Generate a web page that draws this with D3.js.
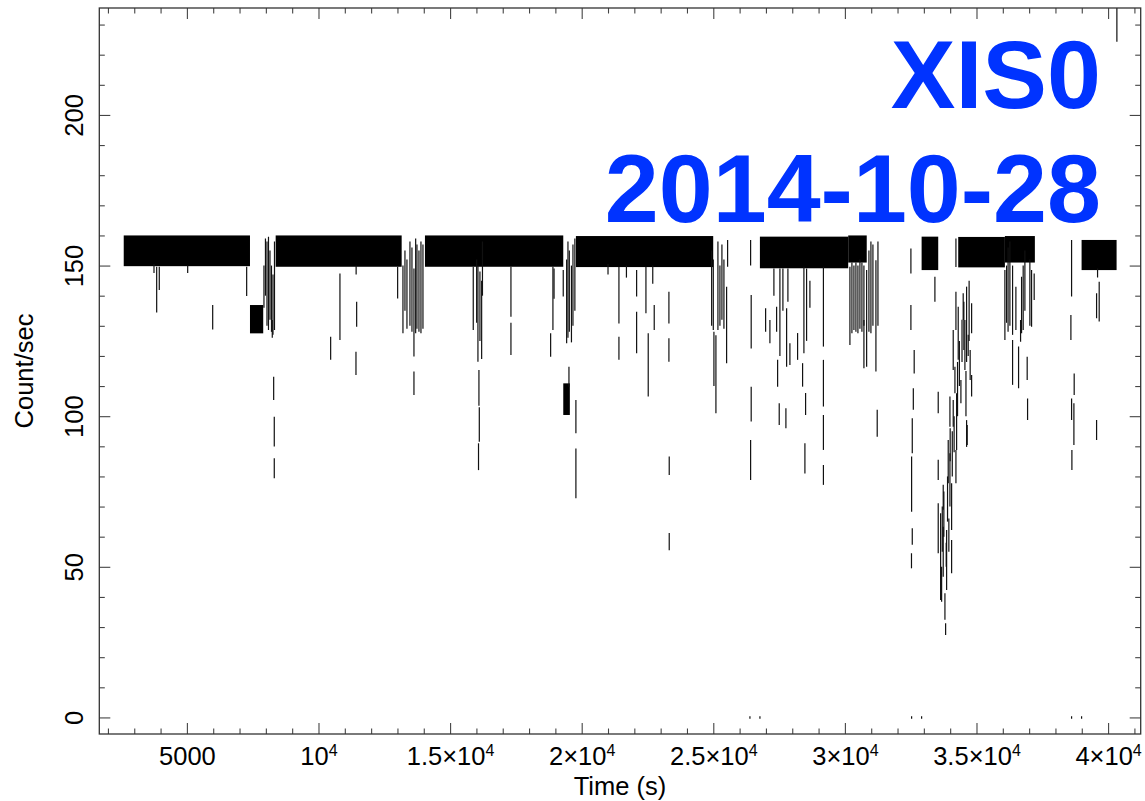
<!DOCTYPE html>
<html>
<head>
<meta charset="utf-8">
<script src="https://cdn.jsdelivr.net/npm/d3@7"></script>
<style>
  body { margin: 0; background: #fff; }
  svg { display: block; font-family: "Liberation Sans", Arial, Helvetica, sans-serif; }
</style>
</head>
<body>
<svg id="chart"></svg>
<script>
const width = 1145;
const height = 801;
const margin = { top: 8, right: 4.3, bottom: 67, left: 99.3 };

// Axis ticks and labels
const xMajor = [5000, 10000, 15000, 20000, 25000, 30000, 35000, 40000];
const xLabels = ["5000", "10^4", "1.5×10^4", "2×10^4", "2.5×10^4", "3×10^4", "3.5×10^4", "4×10^4"];
const yMajor = [0, 50, 100, 150, 200];
const yLabels = ["0", "50", "100", "150", "200"];
const titleLines = ["XIS0", "2014-10-28"];

// Dense stretches of the light curve: [start (s), end (s), low, high]
const bands = [
  [2600, 7397, 149.8, 160],
  [7397, 7900, 127.5, 136.9],
  [8373, 13160, 149.6, 160],
  [14045, 19300, 149.6, 160],
  [19300, 19550, 100.4, 110.9],
  [19780, 24997, 149.5, 159.8],
  [26771, 30126, 149.1, 159.6],
  [30126, 30830, 151, 160],
  [32915, 33546, 148.5, 159.6],
  [34306, 36079, 149.4, 159.5],
  [36079, 37218, 151, 159.8],
  [38993, 40323, 148.5, 158.5]
];

// Single bins with their error bars: [time (s), low, high]
const bars = [
  [3750, 147.5, 150.5], [3852, 134.4, 149.6], [3951, 141.9, 149.6], [5030, 147.5, 150],
  [5980, 128.8, 136.9], [7271, 139.9, 149.6],
  [7928, 136, 150], [7985, 140, 159], [8043, 130, 158], [8100, 128.6, 159.6],
  [8157, 132, 155], [8214, 128, 150], [8244, 126, 131.9], [8271, 127, 147],
  [8297, 105.4, 113.1], [8320, 89.9, 99.8], [8320, 79.4, 86.0], [8328, 128.6, 158],
  [10462, 118.7, 126.4], [10815, 125.3, 147.4], [11450, 129.7, 138], [11424, 113.7, 121.4],
  [11430, 147, 150], [13007, 139.1, 149.6],
  [13209, 127.5, 150], [13285, 135, 155], [13361, 129, 152], [13475, 130, 158],
  [13551, 128, 156], [13627, 119.8, 149], [13627, 107, 114.8], [13692, 127.5, 159],
  [13741, 129, 157], [13817, 128, 155], [13893, 127.5, 158], [13969, 129, 157],
  [15880, 128.6, 149.6], [16009, 131, 152], [16058, 118.1, 150], [16096, 103.5, 115.3],
  [16110, 91.5, 103], [16080, 82.1, 91], [16134, 125, 148], [16199, 119, 145], [16230, 140, 158],
  [17312, 133, 149.6], [17312, 120.3, 131], [18820, 119.7, 127.5], [18907, 128.6, 149.6],
  [18950, 139, 149], [19299, 139.7, 148.5],
  [19428, 124.2, 152], [19478, 126, 158], [19516, 109.8, 116.4], [19530, 128, 155],
  [19611, 124.5, 150], [19668, 130, 157], [19741, 135, 159], [19780, 94.3, 105.4], [19780, 72.8, 89.3],
  [21000, 147, 150.5], [21415, 130.8, 149.6], [21415, 118.7, 126.4], [21700, 146, 150],
  [22087, 139.7, 148.5], [22087, 120.9, 134.7], [22441, 134.2, 149.6], [22528, 106.5, 127.5],
  [22700, 144, 150], [22756, 128.6, 136.9], [23314, 130.8, 141.3], [23314, 118.1, 125.9],
  [23326, 80.5, 86.6], [23326, 55.5, 61.2],
  [24937, 130, 155], [25000, 128.6, 152], [25024, 110, 128], [25100, 101, 126.9],
  [25176, 128.6, 158], [25252, 130, 150], [25328, 132, 157], [25404, 129, 152],
  [25506, 117.6, 143], [25544, 149.6, 158.5],
  [26418, 150, 158.5], [26440, 122.5, 140.2], [26440, 98.2, 109.8], [26418, 78.8, 92.1],
  [26392, -0.4, 0.4], [26772, -0.4, 0.4],
  [26988, 128, 135.8], [27151, 124.2, 131.9], [27303, 140, 149], [27406, 128, 136.3],
  [27444, 109.8, 118.7], [27531, 120, 149], [27505, 97.1, 104.3], [27645, 135, 149],
  [27759, 96, 102.6], [27786, 116.4, 135.8], [27835, 138, 149], [27911, 117, 124.2],
  [28203, 118.7, 127.6], [28393, 109.8, 117.6], [28443, 120.9, 149.6], [28481, 81, 91],
  [28507, 100.4, 107.7], [28545, 125, 149], [28671, 136, 145],
  [29184, 123.1, 149.6], [29184, 103.2, 118.7], [29184, 88.8, 100.4], [29184, 77.2, 83.8],
  [30191, 123.6, 149.6], [30267, 127.5, 151], [30343, 128.6, 150], [30419, 128, 151],
  [30495, 127.5, 150], [30571, 129, 152], [30647, 128, 151], [30723, 115.9, 131.9],
  [30723, 130, 150], [30826, 116.4, 148.5], [30913, 128, 155], [30989, 127.5, 158],
  [31065, 130, 157], [31179, 114.8, 151.8], [31228, 93.2, 102.1], [31256, 130, 158],
  [32508, 147.4, 155.7], [32508, 128.6, 136.9], [32633, 114.2, 122], [32600, 102.1, 109.3],
  [32560, 87.7, 99.3], [32535, 68.3, 86.6], [32560, 57.3, 62.8], [32530, 49.5, 54.5],
  [32535, -0.4, 0.4], [32915, -0.4, 0.4],
  [33420, 138, 146.3], [33546, 101, 108.1], [33546, 78.8, 85.5],
  [34219, 149.5, 159], [34219, 128.6, 141.3], [34306, 118.7, 136.3], [34495, 131.9, 140.8],
  [34560, 115.3, 131.9], [34624, 118, 143], [34685, 120, 127], [34815, 127.5, 137.5],
  [34815, 106.5, 113.7], [34116, 115.3, 128.6], [34181, 107.6, 116.4], [34408, 104.3, 112],
  [34245, 88.8, 107.6], [34116, 96.5, 105.4], [33991, 96.5, 106.5], [34647, 90.4, 97.1],
  [34624, 89.8, 98.7], [33926, 77.7, 92.1], [33991, 70, 87.7], [34219, 77.7, 88.8],
  [34055, 62.2, 77.7], [33736, 68.9, 77.2], [33546, 54.5, 71.1], [33637, 39, 67.8],
  [33736, 46.7, 63.3], [33865, 42.3, 62.2], [33801, 32.4, 41.2], [33827, 27.4, 31.3],
  [34055, 47.9, 58.9], [33675, 38.4, 50],
  [33700, 55, 70], [33760, 60, 75], [33850, 50, 58], [33900, 65, 80], [33950, 55, 66],
  [34000, 85, 96], [34080, 80, 95], [34150, 88, 100], [34280, 100, 118], [34350, 110, 125],
  [34450, 118, 132], [34520, 122, 138], [34600, 100, 115], [34720, 125, 145], [34760, 112, 122],
  [36079, 125.3, 148.5], [36143, 131, 150], [36200, 128, 156], [36269, 130, 158],
  [36371, 110.4, 125.3], [36371, 127, 150], [36497, 128.6, 143], [36599, 109.3, 123.1],
  [36675, 124.7, 131.9], [36713, 127.5, 146.3], [36774, 128.6, 150], [36839, 135, 155],
  [36926, 112, 119.7], [36941, 98.7, 105.9], [37028, 130, 152], [37093, 129.7, 148.5],
  [37192, 138.6, 147.4],
  [38613, 139.7, 158.5], [38587, 125.3, 133.6], [38712, 107, 114.2], [38613, 98.7, 105.9],
  [38701, 90.4, 104.3], [38625, 82.1, 88.8],
  [38613, -0.4, 0.4], [38993, -0.4, 0.4],
  [39563, 132.5, 140.8], [39662, 131.4, 144.6], [39563, 92.1, 98.7], [39600, 146, 149],
  [40334, 224.3, 245]
];

const svg = d3.select("#chart")
  .attr("width", width)
  .attr("height", height);

const x = d3.scaleLinear()
  .domain([1672, 41239])
  .range([margin.left, width - margin.right]);

const y = d3.scaleLinear()
  .domain([-5.5, 235.5])
  .range([height - margin.bottom, margin.top]);

svg.append("defs").append("clipPath").attr("id", "plot-clip")
  .append("rect")
  .attr("x", margin.left).attr("y", margin.top)
  .attr("width", width - margin.left - margin.right)
  .attr("height", height - margin.top - margin.bottom);

// Data
const plot = svg.append("g").attr("clip-path", "url(#plot-clip)");

plot.selectAll(".band")
  .data(bands)
  .enter()
  .append("rect")
  .attr("class", "band")
  .attr("x", d => x(d[0]))
  .attr("width", d => x(d[1]) - x(d[0]))
  .attr("y", d => y(d[3]))
  .attr("height", d => y(d[2]) - y(d[3]))
  .attr("fill", "#000");

plot.selectAll(".bar")
  .data(bars)
  .enter()
  .append("line")
  .attr("class", "bar")
  .attr("x1", d => x(d[0]))
  .attr("x2", d => x(d[0]))
  .attr("y1", d => y(d[1]))
  .attr("y2", d => y(d[2]))
  .attr("stroke", "#111")
  .attr("stroke-width", 1.2);

// Axes (ticks point inward on all four sides)
const xMinor = d3.range(2000, 42000, 1000).filter(v => v % 5000 !== 0);
const yMinor = d3.range(0, 240, 10).filter(v => v % 50 !== 0);
const bottomY = height - margin.bottom;
const rightX = width - margin.right;

function styleAxis(g) {
  g.select(".domain").remove();
  g.selectAll(".tick line").attr("stroke", "#444").attr("stroke-width", 1.1);
}

// bottom
svg.append("g").attr("transform", `translate(0,${bottomY})`)
  .call(d3.axisBottom(x).tickValues(xMinor).tickSizeInner(-5.5).tickSizeOuter(0).tickFormat(""))
  .call(styleAxis);
const xAxis = svg.append("g").attr("transform", `translate(0,${bottomY})`)
  .call(d3.axisBottom(x).tickValues(xMajor).tickSizeInner(-11).tickSizeOuter(0).tickPadding(13)
    .tickFormat((d, i) => xLabels[i]))
  .call(styleAxis);

xAxis.selectAll(".tick text")
  .attr("font-size", 25.5)
  .attr("font-family", "Liberation Sans, Arial, sans-serif")
  .attr("fill", "#000")
  .each(function () {
    const t = d3.select(this);
    const parts = t.text().split("^");
    if (parts.length === 2) {
      t.text(null);
      t.append("tspan").text(parts[0]);
      t.append("tspan").attr("font-size", 16).attr("dy", "-0.55em").text(parts[1]);
    }
  });

// top
svg.append("g").attr("transform", `translate(0,${margin.top})`)
  .call(d3.axisTop(x).tickValues(xMinor).tickSizeInner(-5.5).tickSizeOuter(0).tickFormat(""))
  .call(styleAxis);
svg.append("g").attr("transform", `translate(0,${margin.top})`)
  .call(d3.axisTop(x).tickValues(xMajor).tickSizeInner(-11).tickSizeOuter(0).tickFormat(""))
  .call(styleAxis);

// left
svg.append("g").attr("transform", `translate(${margin.left},0)`)
  .call(d3.axisLeft(y).tickValues(yMinor).tickSizeInner(-5.5).tickSizeOuter(0).tickFormat(""))
  .call(styleAxis);
const yAxis = svg.append("g").attr("transform", `translate(${margin.left},0)`)
  .call(d3.axisLeft(y).tickValues(yMajor).tickSizeInner(-11).tickSizeOuter(0)
    .tickFormat((d, i) => yLabels[i]))
  .call(styleAxis);

yAxis.selectAll(".tick text")
  .attr("x", null)
  .attr("dy", null)
  .attr("text-anchor", "middle")
  .attr("transform", "translate(-16,0) rotate(-90)")
  .attr("font-size", 25.5)
  .attr("font-family", "Liberation Sans, Arial, sans-serif")
  .attr("fill", "#000");

// right
svg.append("g").attr("transform", `translate(${rightX},0)`)
  .call(d3.axisRight(y).tickValues(yMinor).tickSizeInner(-5.5).tickSizeOuter(0).tickFormat(""))
  .call(styleAxis);
svg.append("g").attr("transform", `translate(${rightX},0)`)
  .call(d3.axisRight(y).tickValues(yMajor).tickSizeInner(-11).tickSizeOuter(0).tickFormat(""))
  .call(styleAxis);

// Frame
svg.append("rect")
  .attr("x", margin.left)
  .attr("y", margin.top)
  .attr("width", rightX - margin.left)
  .attr("height", bottomY - margin.top)
  .attr("fill", "none")
  .attr("stroke", "#333")
  .attr("stroke-width", 1.3);

// Axis titles
svg.append("text")
  .attr("x", (margin.left + rightX) / 2)
  .attr("y", 795)
  .attr("text-anchor", "middle")
  .attr("font-size", 25.5)
  .text("Time (s)");

svg.append("text")
  .attr("transform", `translate(33,${(margin.top + bottomY) / 2}) rotate(-90)`)
  .attr("text-anchor", "middle")
  .attr("font-size", 25.5)
  .text("Count/sec");

// Big blue title
svg.selectAll(".title")
  .data(titleLines)
  .enter()
  .append("text")
  .attr("class", "title")
  .attr("x", 1101)
  .attr("y", (d, i) => [108, 222][i])
  .attr("text-anchor", "end")
  .attr("font-size", 97)
  .attr("font-weight", "bold")
  .attr("fill", "#0033ff")
  .text(d => d);
</script>
</body>
</html>
